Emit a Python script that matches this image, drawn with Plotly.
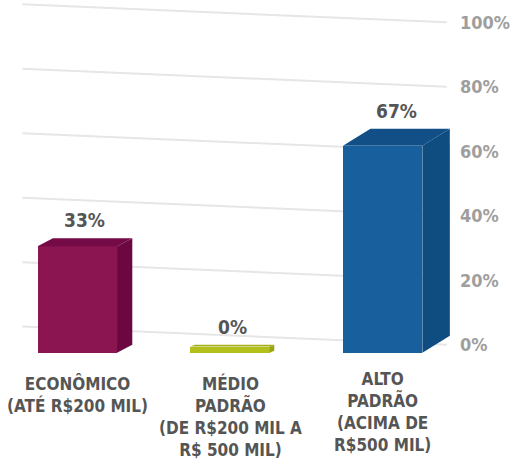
import plotly.graph_objects as go

# ---- data ----
category_lines = [
    ["ECONÔMICO", "(ATÉ R$200 MIL)"],
    ["MÉDIO", "PADRÃO", "(DE R$200 MIL A", "R$ 500 MIL)"],
    ["ALTO", "PADRÃO", "(ACIMA DE", "R$500 MIL)"],
]
values = [33, 0, 67]
value_labels = ["33%", "0%", "67%"]
tick_vals = [0, 20, 40, 60, 80, 100]
tick_labels = ["0%", "20%", "40%", "60%", "80%", "100%"]

# ---- style ----
front_colors = ["#8A1551", "#B3BF1B", "#185F9E"]
side_colors = ["#6C0742", "#98A413", "#0F4C80"]
top_colors = ["#740A46", "#A4B017", "#114F86"]
depth_dx = [0.10, 0.03, 0.18]      # perspective depth (x units)
depth_dy = [2.5, 0.6, 5.3]         # perspective depth (y units)
label_shift = [0, 0, -4]
BAR_W = 0.52
BASE = -2.5
FONT = "DejaVu Sans Condensed, Liberation Sans Narrow, sans-serif"
GRID_SLANT = 5.6

xs = list(range(len(values)))
fig = go.Figure()

# slanted gridlines on the back wall (below the bars)
for t in tick_vals:
    fig.add_shape(type="line", xref="x", yref="y", x0=-0.36, x1=2.42,
                  y0=t + GRID_SLANT, y1=t, layer="below",
                  line=dict(color="#E6E6E6", width=2))

# front faces
fig.add_trace(go.Bar(
    x=xs, y=[v - d - BASE for v, d in zip(values, depth_dy)], base=BASE,
    width=BAR_W, marker=dict(color=front_colors, line=dict(width=0)),
    customdata=value_labels, hovertemplate="%{customdata}<extra></extra>",
    showlegend=False))

# side and top faces
for x, v, dx, dy, sc, tc in zip(xs, values, depth_dx, depth_dy, side_colors, top_colors):
    xl, xr = x - BAR_W / 2, x + BAR_W / 2
    fig.add_trace(go.Scatter(
        x=[xr, xr + dx, xr + dx, xr, xr], y=[BASE, BASE + dy, v, v - dy, BASE],
        fill="toself", fillcolor=sc, mode="lines", line=dict(width=0, color=sc),
        hoverinfo="skip", showlegend=False))
    fig.add_trace(go.Scatter(
        x=[xl, xl + dx, xr + dx, xr, xl], y=[v - dy, v, v, v - dy, v - dy],
        fill="toself", fillcolor=tc, mode="lines", line=dict(width=0, color=tc),
        hoverinfo="skip", showlegend=False))

# value labels
for x, v, dx, lab in zip(xs, values, depth_dx, value_labels):
    fig.add_annotation(x=x + dx / 2, y=v, text=lab, showarrow=False,
                       yanchor="bottom", yshift=5,
                       font=dict(family=FONT, size=19, color="#555555", weight="bold"))

# category labels
for x, lines, ys in zip(xs, category_lines, label_shift):
    fig.add_annotation(x=x, y=0, yref="paper", text="<br>".join(lines),
                       showarrow=False, yanchor="top", yshift=-7 - ys,
                       align="center",
                       font=dict(family=FONT, size=17, color="#555555", weight="bold"))

fig.update_layout(
    width=521, height=469,
    margin=dict(l=1, r=62, t=3, b=105),
    paper_bgcolor="white", plot_bgcolor="white",
    bargap=0,
    xaxis=dict(range=[-0.5, 2.5], visible=False),
    yaxis=dict(range=[-6, 106], side="right", tickvals=tick_vals, ticktext=tick_labels,
               showgrid=False, zeroline=False, showline=False, ticks="",
               tickfont=dict(family=FONT, size=18, color="#9E9E9E", weight="bold")),
)

fig.write_html("out.html", config={"displayModeBar": False},
               post_script="document.body.style.margin='0';")
